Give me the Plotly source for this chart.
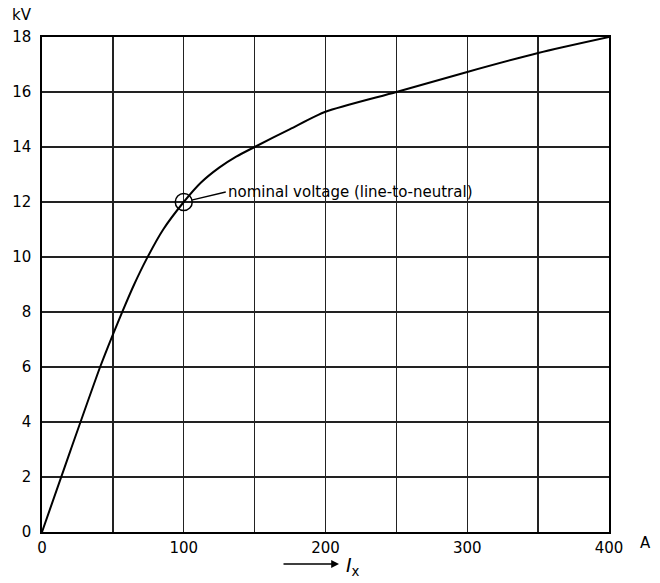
import plotly.graph_objects as go

# Data
current_A = [0, 20, 41, 50, 57, 65, 74, 85.5, 100, 112, 125, 137, 150, 175, 200, 250, 300, 350, 400]
voltage_kV = [0, 2.95, 6, 7.18, 8.05, 9.0, 9.95, 11, 12, 12.7, 13.25, 13.65, 14, 14.65, 15.28, 16, 16.73, 17.42, 18]

x_tickvals = [0, 50, 100, 150, 200, 250, 300, 350, 400]
x_ticktext = ["0", "", "100", "", "200", "", "300", "", "400"]
y_tickvals = [0, 2, 4, 6, 8, 10, 12, 14, 16, 18]
y_ticktext = ["0", "2", "4", "6", "8", "10", "12", "14", "16", "18"]

nominal_point = (100, 12)
nominal_label = "nominal voltage (line-to-neutral)"

FONT = "DejaVu Sans"

fig = go.Figure()
fig.add_trace(go.Scatter(
    x=current_A, y=voltage_kV, mode="lines",
    line=dict(color="black", width=2, shape="spline", smoothing=0.7),
    hoverinfo="skip", showlegend=False,
))
fig.add_trace(go.Scatter(
    x=[nominal_point[0]], y=[nominal_point[1]], mode="markers",
    marker=dict(symbol="circle-open", size=17, color="black", line=dict(width=1.5, color="black")),
    hoverinfo="skip", showlegend=False,
))

fig.add_annotation(
    x=nominal_point[0], y=nominal_point[1], xref="x", yref="y",
    text=nominal_label, showarrow=True, arrowhead=0, arrowwidth=1.3, arrowcolor="black",
    ax=42, ay=-10, xanchor="left", yanchor="middle", standoff=8,
    font=dict(family=FONT, size=15, color="black"),
)

# axis unit labels
fig.add_annotation(text="kV", xref="paper", yref="paper",
                   x=(22 - 42) / 567, y=(532 - 15) / 495, showarrow=False,
                   xanchor="center", yanchor="middle",
                   font=dict(family=FONT, size=15, color="black"))
fig.add_annotation(text="A", xref="paper", yref="paper",
                   x=(645 - 42) / 567, y=(532 - 543) / 495, showarrow=False,
                   xanchor="center", yanchor="middle",
                   font=dict(family=FONT, size=15, color="black"))

# I_x arrow
fig.add_annotation(text="", xref="paper", yref="paper",
                   x=(339 - 42) / 567, y=(532 - 564) / 495,
                   ax=-57, ay=0, showarrow=True, arrowhead=2, arrowsize=1.2,
                   arrowwidth=1.3, arrowcolor="black")
fig.add_annotation(text="<i>I</i><sub>x</sub>", xref="paper", yref="paper",
                   x=(344 - 42) / 567, y=(532 - 566) / 495, xanchor="left", yanchor="middle",
                   showarrow=False, font=dict(family=FONT, size=19, color="black"))

axis_common = dict(
    showgrid=True, gridcolor="#222222", gridwidth=1.3,
    showline=True, linecolor="black", linewidth=1.6, mirror=True,
    zeroline=False, ticks="", tickfont=dict(family=FONT, size=15, color="black"),
    fixedrange=True,
)
fig.update_xaxes(range=[0, 400], tickmode="array", tickvals=x_tickvals, ticktext=x_ticktext,
                 ticklabelstandoff=1, **axis_common)
fig.update_yaxes(range=[0, 18], tickmode="array", tickvals=y_tickvals, ticktext=y_ticktext,
                 ticklabelstandoff=6, **axis_common)

fig.update_layout(
    width=660, height=583, autosize=False,
    margin=dict(l=42, r=51, t=37, b=51),
    paper_bgcolor="white", plot_bgcolor="white",
    font=dict(family=FONT, color="black"),
)

fig.write_html(
    "out.html",
    config={"displayModeBar": False, "staticPlot": True},
    post_script="document.body.style.margin='0px';document.body.style.overflow='hidden';",
)
